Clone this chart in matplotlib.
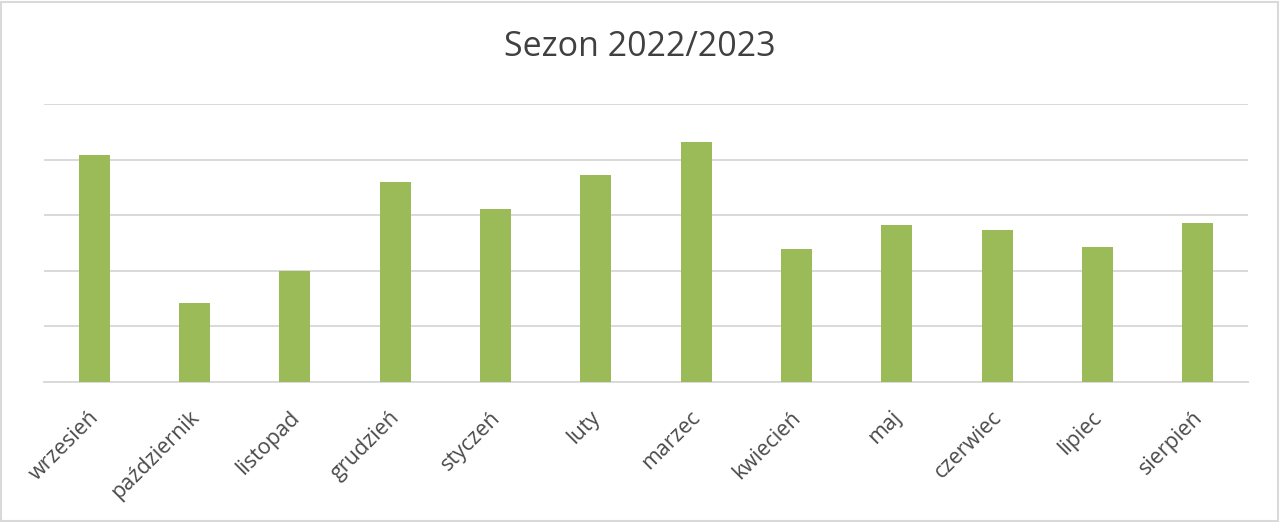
import matplotlib.pyplot as plt
import matplotlib.transforms as mtransforms
from matplotlib.patches import Rectangle

# Months of the season and bar heights (gridline units)
months = ["wrzesień", "październik", "listopad", "grudzień", "styczeń", "luty",
          "marzec", "kwiecień", "maj", "czerwiec", "lipiec", "sierpień"]
values = [4.09, 1.42, 1.99, 3.60, 3.11, 3.73, 4.32, 2.39, 2.82, 2.73, 2.42, 2.86]
grid_levels = [0, 1, 2, 3, 4, 5]

plt.rcParams["font.family"] = ["Open Sans", "DejaVu Sans"]

fig = plt.figure(figsize=(12.8, 5.22), dpi=100)
ax = fig.add_axes([44 / 1280, 1 - 382 / 522, (1248 - 44) / 1280, (382 - 104) / 522])

x = range(len(months))
ax.bar(x, values, width=0.31, color="#9bbb59", zorder=3)

ax.set_xlim(-0.5, len(months) - 0.5)
ax.set_ylim(0, 5)
ax.set_yticks(grid_levels)
ax.set_yticklabels([])
ax.tick_params(axis="y", length=0)
ax.grid(True, axis="y", color="#d9d9d9", linewidth=1.4, zorder=0)
for s in ["top", "right", "left"]:
    ax.spines[s].set_visible(False)
ax.spines["bottom"].set_color("#d9d9d9")
ax.spines["bottom"].set_linewidth(1.4)

ax.set_xticks(list(x))
ax.set_xticklabels(months, rotation=45, ha="right", rotation_mode="anchor",
                   fontsize=15.5, color="#4a4a4a")
ax.tick_params(axis="x", length=0, pad=18)
# nudge labels a little to the left, like the original
shift = mtransforms.ScaledTranslation(-6 / 100, 0, fig.dpi_scale_trans)
for lab in ax.get_xticklabels():
    lab.set_transform(lab.get_transform() + shift)

fig.text(0.5, 1 - 47 / 522, "Sezon 2022/2023", ha="center", va="center",
         fontsize=24.5, color="#404040")

# light frame around the chart area
fig.patches.append(Rectangle((1 / 1280, 1 / 522), 1 - 3 / 1280, 1 - 3 / 522,
                             transform=fig.transFigure, fill=False,
                             edgecolor="#d9d9d9", linewidth=1.5))

fig.savefig("out.png", dpi=100, facecolor="white")
